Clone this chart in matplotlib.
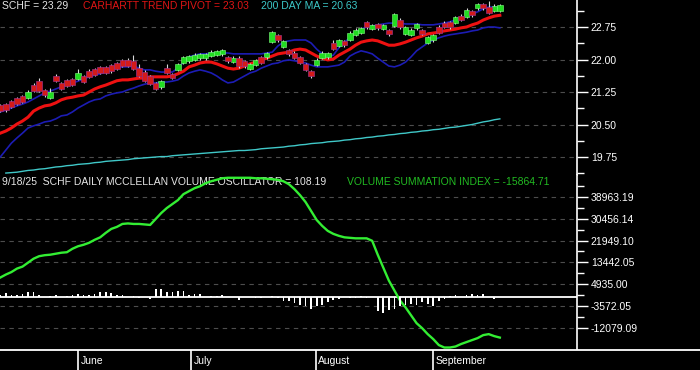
import numpy as np
import matplotlib
matplotlib.use("Agg")
import matplotlib.pyplot as plt
from matplotlib.ticker import FixedLocator, FixedFormatter

plt.rcParams['font.family'] = ['Liberation Sans', 'DejaVu Sans']

# daily candles, one per trading day (mid May -> 9/18/25)
opens = [20.95, 20.97, 21.04, 21.11, 21.16, 21.11, 21.41, 21.50, 21.29, 21.12,
         21.63, 21.46, 21.53, 21.55, 21.56, 21.61, 21.74, 21.78, 21.82, 21.82,
         21.87, 21.92, 21.98, 21.99, 21.96, 21.80, 21.72, 21.62, 21.45, 21.36,
         21.81, 21.67, 21.76, 21.93, 21.96, 22.00, 22.03, 22.03, 22.08, 22.10,
         22.12, 22.06, 21.94, 22.04, 21.96, 21.78, 21.88, 22.05, 22.05, 22.40,
         22.56, 22.30, 22.22, 22.16, 22.06, 21.90, 21.73, 21.88, 22.04, 22.05,
         22.37, 22.32, 22.43, 22.46, 22.57, 22.62, 22.86, 22.70, 22.82, 22.70,
         22.68, 22.78, 22.92, 22.60, 22.57, 22.72, 22.67, 22.39, 22.44, 22.74,
         22.85, 22.86, 22.84, 23.01, 22.98, 23.12, 23.18, 23.28, 23.21, 23.13,
         23.13]
closes = [20.81, 20.83, 20.90, 20.97, 21.02, 21.25, 21.27, 21.28, 21.17, 21.24,
          21.51, 21.32, 21.39, 21.41, 21.68, 21.49, 21.60, 21.64, 21.70, 21.70,
          21.73, 21.78, 21.86, 21.86, 21.78, 21.62, 21.50, 21.44, 21.33, 21.50,
          21.70, 21.57, 21.89, 22.05, 22.07, 22.11, 22.13, 22.13, 22.18, 22.20,
          22.22, 21.96, 22.04, 21.84, 21.84, 21.89, 21.99, 21.93, 22.15, 22.64,
          22.44, 22.43, 22.12, 22.04, 21.92, 21.76, 21.61, 22.00, 22.16, 22.15,
          22.25, 22.44, 22.33, 22.62, 22.69, 22.73, 22.74, 22.80, 22.72, 22.80,
          22.58, 23.04, 22.74, 22.75, 22.69, 22.82, 22.59, 22.51, 22.56, 22.62,
          22.75, 22.74, 22.98, 22.91, 23.15, 23.02, 23.28, 23.18, 23.08, 23.24,
          23.25]
highs = [20.98, 21.00, 21.07, 21.14, 21.19, 21.30, 21.45, 21.58, 21.32, 21.34,
         21.66, 21.49, 21.56, 21.58, 21.78, 21.64, 21.77, 21.81, 21.85, 21.85,
         21.90, 21.95, 22.01, 22.04, 22.10, 21.90, 21.75, 21.65, 21.48, 21.53,
         21.90, 21.70, 21.92, 22.08, 22.10, 22.14, 22.16, 22.16, 22.21, 22.23,
         22.25, 22.09, 22.07, 22.07, 21.99, 21.92, 22.02, 22.08, 22.18, 22.66,
         22.59, 22.46, 22.25, 22.19, 22.09, 21.93, 21.76, 22.03, 22.19, 22.18,
         22.45, 22.47, 22.46, 22.65, 22.72, 22.76, 22.89, 22.83, 22.85, 22.83,
         22.71, 23.07, 22.95, 22.78, 22.72, 22.85, 22.70, 22.54, 22.59, 22.80,
         22.88, 22.89, 23.01, 23.04, 23.18, 23.15, 23.31, 23.31, 23.34, 23.27,
         23.28]
lows = [20.78, 20.80, 20.87, 20.94, 20.99, 21.08, 21.24, 21.25, 21.14, 21.09,
        21.48, 21.29, 21.36, 21.38, 21.53, 21.46, 21.57, 21.61, 21.67, 21.67,
        21.70, 21.75, 21.83, 21.83, 21.75, 21.59, 21.47, 21.41, 21.30, 21.33,
        21.67, 21.54, 21.73, 21.90, 21.93, 21.97, 22.00, 22.00, 22.05, 22.07,
        22.09, 21.93, 21.91, 21.81, 21.81, 21.75, 21.85, 21.90, 22.02, 22.37,
        22.41, 22.27, 22.09, 22.01, 21.89, 21.73, 21.58, 21.85, 22.01, 22.02,
        22.22, 22.29, 22.30, 22.43, 22.54, 22.59, 22.71, 22.67, 22.69, 22.67,
        22.55, 22.75, 22.71, 22.57, 22.54, 22.69, 22.56, 22.36, 22.41, 22.59,
        22.72, 22.71, 22.81, 22.88, 22.95, 22.99, 23.15, 23.15, 23.05, 23.10,
        23.10]

# carhartt trend pivot (red) and its upper / lower bands (blue)
pivot = [20.30, 20.35, 20.42, 20.51, 20.58, 20.67, 20.81, 20.88, 20.93, 20.95,
         21.00, 21.07, 21.11, 21.13, 21.16, 21.18, 21.25, 21.32, 21.37, 21.41,
         21.46, 21.51, 21.53, 21.53, 21.55, 21.57, 21.57, 21.60, 21.60, 21.60,
         21.60, 21.62, 21.67, 21.73, 21.83, 21.87, 21.92, 21.94, 21.94, 21.90,
         21.85, 21.80, 21.78, 21.80, 21.85, 21.90, 21.94, 21.99, 22.03, 22.08,
         22.13, 22.15, 22.17, 22.22, 22.24, 22.22, 22.15, 22.08, 22.03, 21.99,
         22.01, 22.10, 22.17, 22.24, 22.33, 22.40, 22.43, 22.45, 22.43, 22.38,
         22.33, 22.33, 22.36, 22.40, 22.45, 22.50, 22.54, 22.59, 22.61, 22.63,
         22.66, 22.68, 22.70, 22.73, 22.75, 22.80, 22.84, 22.91, 22.96, 23.00,
         23.02]
band_up = [20.79, 20.83, 20.88, 20.93, 20.97, 21.02, 21.09, 21.16, 21.23, 21.27,
           21.32, 21.37, 21.41, 21.46, 21.50, 21.55, 21.60, 21.64, 21.67, 21.71,
           21.76, 21.80, 21.83, 21.83, 21.85, 21.80, 21.76, 21.76, 21.73, 21.71,
           21.71, 21.71, 21.80, 21.94, 22.06, 22.10, 22.13, 22.13, 22.15, 22.15,
           22.15, 22.15, 22.13, 22.13, 22.13, 22.13, 22.13, 22.13, 22.15, 22.17,
           22.31, 22.40, 22.43, 22.45, 22.45, 22.45, 22.38, 22.24, 22.13, 22.06,
           22.10, 22.27, 22.40, 22.50, 22.63, 22.70, 22.75, 22.77, 22.80, 22.82,
           22.84, 22.84, 22.84, 22.82, 22.82, 22.82, 22.80, 22.80, 22.80, 22.82,
           22.84, 22.87, 22.91, 22.96, 23.00, 23.05, 23.10, 23.17, 23.21, 23.21,
           23.19]
band_lo = [19.75, 19.91, 20.07, 20.19, 20.30, 20.42, 20.47, 20.51, 20.56, 20.58,
           20.63, 20.70, 20.72, 20.79, 20.88, 20.95, 21.02, 21.07, 21.09, 21.16,
           21.20, 21.23, 21.25, 21.30, 21.34, 21.39, 21.43, 21.46, 21.46, 21.48,
           21.48, 21.50, 21.53, 21.62, 21.69, 21.73, 21.76, 21.73, 21.69, 21.62,
           21.53, 21.46, 21.48, 21.55, 21.62, 21.69, 21.73, 21.80, 21.85, 21.90,
           21.92, 21.97, 21.99, 21.97, 21.94, 21.92, 21.87, 21.83, 21.83, 21.83,
           21.85, 21.87, 21.94, 22.08, 22.15, 22.20, 22.17, 22.13, 22.03, 21.94,
           21.85, 21.83, 21.87, 21.94, 22.06, 22.20, 22.29, 22.38, 22.45, 22.50,
           22.54, 22.57, 22.59, 22.61, 22.63, 22.66, 22.68, 22.73, 22.75, 22.75,
           22.73]
ma200 = [np.nan, 19.38, 19.39, 19.40, 19.42, 19.44, 19.45, 19.47, 19.48, 19.50,
         19.52, 19.53, 19.55, 19.56, 19.58, 19.59, 19.60, 19.62, 19.63, 19.65,
         19.66, 19.67, 19.68, 19.69, 19.71, 19.72, 19.73, 19.74, 19.75, 19.76,
         19.76, 19.78, 19.79, 19.80, 19.81, 19.82, 19.83, 19.84, 19.85, 19.86,
         19.87, 19.88, 19.89, 19.90, 19.90, 19.91, 19.92, 19.94, 19.95, 19.96,
         19.97, 19.98, 20.00, 20.01, 20.03, 20.04, 20.06, 20.07, 20.08, 20.10,
         20.11, 20.12, 20.14, 20.15, 20.17, 20.18, 20.20, 20.21, 20.23, 20.24,
         20.26, 20.27, 20.29, 20.30, 20.32, 20.33, 20.35, 20.36, 20.38, 20.39,
         20.41, 20.43, 20.44, 20.46, 20.48, 20.50, 20.53, 20.56, 20.58, 20.61,
         20.63]

# volume summation index (green line) and mcclellan volume oscillator (bars)
vsi = [7526, 8686, 9653, 11006, 11780, 13327, 14873, 15840, 16227, 16420,
       16807, 17194, 17387, 18740, 19707, 20287, 21061, 22221, 23188, 24928,
       26474, 27248, 28408, 28601, 28408, 28408, 28215, 28021, 30342, 32662,
       34595, 36142, 37689, 40009, 41169, 42329, 43103, 44263, 45036, 45616,
       46196, 46389, 46389, 46389, 46389, 46389, 46196, 46196, 46003, 45809,
       45616, 45036, 43876, 41942, 39622, 36915, 33435, 29954, 27634, 25701,
       24541, 23768, 23188, 22994, 22801, 22801, 22801, 21834, 16420, 11393,
       6366, 2499, -1368, -4075, -7168, -10262, -12196, -14516, -16449, -18770,
       -19736, -19736, -19350, -18383, -17610, -16836, -16063, -14903, -14516, -15300,
       -15865]
mvo = [100, 200, 115, 115, 165, 235, 235, 115, 0, 65,
       115, 0, 65, 115, 165, 85, 115, 165, 235, 235,
       200, 115, 85, 0, 65, -65, 0, -115, 400, 400,
       235, 235, 285, 285, 115, 165, 165, 0, 65, 65,
       115, 0, 0, -135, 0, 0, -50, -65, 0, 65,
       -50, -185, -215, -300, -385, -465, -600, -465, -385, -265,
       -150, -85, 0, -75, -50, 35, -50, 0, -715, -800,
       -635, -600, -465, -385, -350, -385, -265, -335, -435, -215,
       -100, 65, 115, 0, 115, 165, 115, 165, 0, -100,
       0]

price_ticks = [19.75, 20.50, 21.25, 22.00, 22.75]
vsi_ticks = [-12079.09, -3572.05, 4935.00, 13442.05, 21949.10, 30456.14, 38963.19]
months = ["June", "July", "August", "September"]
month_breaks = [14.0, 34.4, 56.8, 78.0]

GRID = '#4d4d4d'


def style_panel(ax, ticks, labels, minors):
    ax.set_facecolor('black')
    for s in ['left', 'top', 'bottom']:
        ax.spines[s].set_visible(False)
    ax.spines['right'].set_color('white')
    ax.spines['right'].set_linewidth(1.2)
    ax.yaxis.tick_right()
    ax.yaxis.set_major_locator(FixedLocator(ticks))
    ax.yaxis.set_major_formatter(FixedFormatter(labels))
    ax.yaxis.set_minor_locator(FixedLocator(minors))
    ax.tick_params(axis='y', which='major', colors='white', labelsize=7.5, length=8, width=1, pad=2)
    ax.tick_params(axis='y', which='minor', colors='white', length=5, width=1)
    ax.set_xticks([])
    ax.grid(True, axis='y', which='major', color=GRID, linestyle=(0, (4, 4)), linewidth=0.8)
    ax.set_xlim(-0.05, 103.9)


fig = plt.figure(figsize=(7, 3.7), dpi=100, facecolor='black')
ax1 = fig.add_axes([0, 195 / 370, 577 / 700, 175 / 370])
ax2 = fig.add_axes([0, 20 / 370, 577 / 700, 175 / 370])
ax3 = fig.add_axes([0, 0, 1, 20 / 370])

x = np.arange(len(closes))
o = np.array(opens)
c = np.array(closes)
up = c >= o
body_lo = np.minimum(o, c)
body_h = np.abs(c - o)

# price panel
style_panel(ax1, price_ticks, ["%.2f" % t for t in price_ticks],
            [t + 0.375 for t in [19.0] + price_ticks])
ax1.set_ylim(19.335, 23.373)
ax1.plot(x, ma200, color='#40c8c8', lw=1.0, zorder=2)
ax1.plot(x, band_up, color='#1c1cb4', lw=1.2, zorder=2)
ax1.plot(x, band_lo, color='#1c1cb4', lw=1.2, zorder=2)
ax1.plot(x, pivot, color='#ee1111', lw=2.2, zorder=2)
ax1.vlines(x, lows, highs, color='#d8d8d8', lw=0.8, zorder=3)
ax1.bar(x[up], body_h[up], bottom=body_lo[up], width=1.0, color='#22dd22',
        edgecolor='#80ff80', linewidth=0.4, zorder=4)
ax1.bar(x[~up], body_h[~up], bottom=body_lo[~up], width=1.0, color='#d41a1a',
        edgecolor='#9a3080', linewidth=0.5, zorder=4)

# summation index panel, oscillator bars on their own scale
axb = ax2.twinx()
style_panel(ax2, vsi_ticks, ["%.2f" % t for t in vsi_ticks],
            [t + 8507.05 / 2 for t in vsi_ticks])
ax2.set_ylim(-20702, 47470.24)
ax2.axhline(0, color='white', lw=1.3, zorder=2)
ax2.plot(x, vsi, color='#33ee33', lw=1.7, zorder=4)

lo, hi = ax2.get_ylim()
top = 6000
axb.set_ylim(-top * (-lo) / hi, top)
axb.bar(x, mvo, width=0.3, color='white', zorder=3)
axb.axis('off')
axb.set_xlim(-0.05, 103.9)

# date strip
ax3.set_facecolor('black')
ax3.set_xlim(-0.05, -0.05 + 700 / 5.55)
ax3.set_ylim(0, 1)
for s in ['left', 'right', 'bottom']:
    ax3.spines[s].set_visible(False)
ax3.spines['top'].set_color('white')
ax3.spines['top'].set_linewidth(1.3)
ax3.set_xticks([])
ax3.set_yticks([])
ax3.vlines(month_breaks, 0, 1, color='white', lw=1.2)
for m, p in zip(months, month_breaks):
    ax3.text(p + 0.5, 0.45, m, color='white', fontsize=7.5, va='center', ha='left')

# headers
fig.text(2 / 700, 1 - 6 / 370, "SCHF = 23.29", color='#e6e6e6', fontsize=7.5, va='center')
fig.text(83 / 700, 1 - 6 / 370, "CARHARTT TREND PIVOT = 23.03", color='#e01515', fontsize=7.5, va='center')
fig.text(261 / 700, 1 - 6 / 370, "200 DAY MA = 20.63", color='#3cc8c8', fontsize=7.5, va='center')
ax2.text(2 / 577, 1 - 6.7 / 175, "9/18/25  SCHF DAILY MCCLELLAN VOLUME OSCILLATOR = 108.19",
         color='#e6e6e6', fontsize=7.5, va='center', transform=ax2.transAxes, zorder=1)
ax2.text(347 / 577, 1 - 6.7 / 175, "VOLUME SUMMATION INDEX = -15864.71",
         color='#22bb22', fontsize=7.5, va='center', transform=ax2.transAxes, zorder=1)

fig.savefig("out.png", dpi=100, facecolor='black')
